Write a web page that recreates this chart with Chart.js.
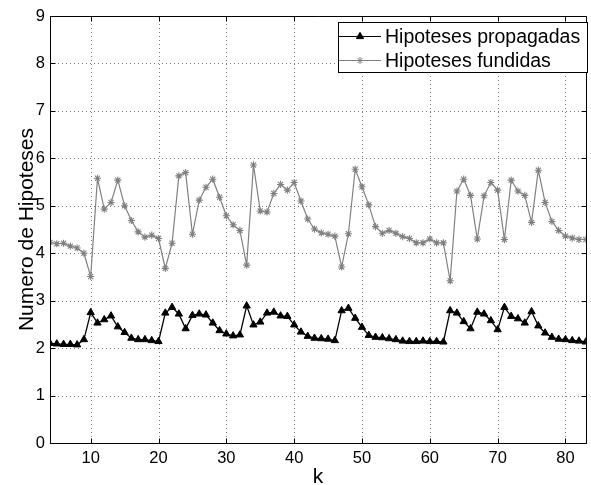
<!DOCTYPE html>
<html>
<head>
<meta charset="utf-8">
<script src="https://cdn.jsdelivr.net/npm/chart.js@4.4.1/dist/chart.umd.min.js"></script>
<style>
  html, body { margin: 0; padding: 0; background: #fff; }
  #wrap { width: 591px; height: 485px; }
</style>
</head>
<body>
<div id="wrap"><canvas id="chart" width="591" height="485"></canvas></div>
<script>
// Data
const kValues = [4, 5, 6, 7, 8, 9, 10, 11, 12, 13, 14, 15, 16, 17, 18, 19, 20, 21, 22, 23,
    24, 25, 26, 27, 28, 29, 30, 31, 32, 33, 34, 35, 36, 37, 38, 39, 40, 41, 42, 43,
    44, 45, 46, 47, 48, 49, 50, 51, 52, 53, 54, 55, 56, 57, 58, 59, 60, 61, 62, 63,
    64, 65, 66, 67, 68, 69, 70, 71, 72, 73, 74, 75, 76, 77, 78, 79, 80, 81, 82, 83];

const propagadas = [2.10, 2.09, 2.08, 2.08, 2.07, 2.18, 2.75, 2.53, 2.60, 2.68,
    2.45, 2.33, 2.21, 2.18, 2.18, 2.16, 2.14, 2.74, 2.86, 2.72,
    2.41, 2.69, 2.72, 2.70, 2.53, 2.37, 2.30, 2.26, 2.28, 2.89,
    2.49, 2.55, 2.74, 2.76, 2.68, 2.67, 2.49, 2.34, 2.25, 2.21,
    2.20, 2.19, 2.16, 2.79, 2.84, 2.63, 2.44, 2.27, 2.23, 2.22,
    2.20, 2.18, 2.15, 2.14, 2.14, 2.15, 2.14, 2.14, 2.13, 2.79,
    2.74, 2.56, 2.41, 2.76, 2.72, 2.58, 2.39, 2.86, 2.67, 2.62,
    2.53, 2.77, 2.47, 2.32, 2.23, 2.19, 2.18, 2.16, 2.15, 2.13];

const fundidas = [4.23, 4.20, 4.21, 4.15, 4.11, 4.00, 3.51, 5.58, 4.93, 5.07,
    5.54, 5.00, 4.69, 4.45, 4.34, 4.38, 4.31, 3.68, 4.21, 5.63,
    5.70, 4.40, 5.12, 5.39, 5.56, 5.18, 4.79, 4.60, 4.48, 3.75,
    5.86, 4.89, 4.87, 5.26, 5.45, 5.33, 5.49, 5.10, 4.72, 4.51,
    4.43, 4.40, 4.36, 3.71, 4.41, 5.77, 5.40, 5.02, 4.56, 4.42,
    4.48, 4.42, 4.35, 4.31, 4.22, 4.22, 4.30, 4.22, 4.22, 3.42,
    5.31, 5.56, 5.22, 4.30, 5.21, 5.49, 5.33, 4.29, 5.54, 5.31,
    5.22, 4.65, 5.75, 5.07, 4.67, 4.48, 4.36, 4.32, 4.29, 4.29];

const xTicks = [10, 20, 30, 40, 50, 60, 70, 80];
const yTicks = [0, 1, 2, 3, 4, 5, 6, 7, 8, 9];

const seriesNames = ["Hipoteses propagadas", "Hipoteses fundidas"];
const xTitle = "k";
const yTitle = "Numero de Hipoteses";

const FONT = "'Liberation Sans', Arial, Helvetica, sans-serif";
const GRAY = "#808080";

function toPoints(values) {
    return values.map((v, i) => ({ x: kValues[i], y: v }));
}

// small marker helpers for the legend
function drawTriangle(ctx, x, y, r) {
    ctx.beginPath();
    ctx.moveTo(x, y - r);
    ctx.lineTo(x + Math.sin(2 * Math.PI / 3) * r, y + 0.5 * r);
    ctx.lineTo(x - Math.sin(2 * Math.PI / 3) * r, y + 0.5 * r);
    ctx.closePath();
    ctx.fill();
    ctx.stroke();
}

function drawStar(ctx, x, y, r) {
    const d = r * Math.SQRT1_2;
    ctx.beginPath();
    ctx.moveTo(x - r, y); ctx.lineTo(x + r, y);
    ctx.moveTo(x, y - r); ctx.lineTo(x, y + r);
    ctx.moveTo(x - d, y - d); ctx.lineTo(x + d, y + d);
    ctx.moveTo(x - d, y + d); ctx.lineTo(x + d, y - d);
    ctx.stroke();
}

// dotted grid under the lines
const dottedGrid = {
    id: "dottedGrid",
    beforeDatasetsDraw(chart) {
        const ctx = chart.ctx;
        const a = chart.chartArea;
        const xs = chart.scales.x;
        const ys = chart.scales.y;
        ctx.save();
        ctx.strokeStyle = "#7a7a7a";
        ctx.lineWidth = 1;
        ctx.setLineDash([1, 3]);
        ctx.beginPath();
        xTicks.forEach(v => {
            const px = Math.round(xs.getPixelForValue(v)) + 0.5;
            ctx.moveTo(px, a.top); ctx.lineTo(px, a.bottom);
        });
        yTicks.forEach(v => {
            const py = Math.round(ys.getPixelForValue(v)) + 0.5;
            ctx.moveTo(a.left, py); ctx.lineTo(a.right, py);
        });
        ctx.stroke();
        ctx.restore();
    }
};

// frame with inward ticks, axis titles, boxed legend
const matlabFrame = {
    id: "matlabFrame",
    afterDraw(chart) {
        const ctx = chart.ctx;
        const a = chart.chartArea;
        const xs = chart.scales.x;
        const ys = chart.scales.y;
        const L = Math.round(a.left) + 0.5;
        const R = Math.round(a.right) + 0.5; // right edge sits just off the canvas
        const T = Math.round(a.top) + 0.5;
        const B = Math.round(a.bottom) + 0.5;
        const tl = 5;

        ctx.save();
        ctx.strokeStyle = "#000";
        ctx.lineWidth = 1;
        ctx.beginPath();
        ctx.rect(L, T, R - L, B - T);
        xTicks.forEach(v => {
            const px = Math.round(xs.getPixelForValue(v)) + 0.5;
            ctx.moveTo(px, B); ctx.lineTo(px, B - tl);
            ctx.moveTo(px, T); ctx.lineTo(px, T + tl);
        });
        yTicks.forEach(v => {
            const py = Math.round(ys.getPixelForValue(v)) + 0.5;
            ctx.moveTo(L, py); ctx.lineTo(L + tl, py);
            ctx.moveTo(R, py); ctx.lineTo(R - tl, py);
        });
        ctx.stroke();

        // axis titles
        ctx.fillStyle = "#000";
        ctx.font = "21px " + FONT;
        ctx.textAlign = "center";
        ctx.textBaseline = "alphabetic";
        ctx.fillText(xTitle, (a.left + a.right) / 2, 483);
        ctx.save();
        ctx.translate(33, (a.top + a.bottom) / 2);
        ctx.rotate(-Math.PI / 2);
        ctx.fillText(yTitle, 0, 0);
        ctx.restore();

        // legend
        const bx = 338.5, by = 22.5, bw = 249, bh = 50;
        ctx.fillStyle = "#fff";
        ctx.fillRect(bx, by, bw, bh);
        ctx.strokeStyle = "#000";
        ctx.strokeRect(bx, by, bw, bh);

        const rows = [
            { y: 36.5, base: 43.3, color: "#000", marker: "triangle" },
            { y: 60.5, base: 66.8, color: GRAY, marker: "star" }
        ];
        rows.forEach((row, i) => {
            ctx.strokeStyle = row.color;
            ctx.fillStyle = row.color;
            ctx.lineWidth = 1;
            ctx.beginPath();
            ctx.moveTo(339, row.y); ctx.lineTo(381, row.y);
            ctx.stroke();
            if (row.marker === "triangle") drawTriangle(ctx, 360, row.y, 4.2);
            else drawStar(ctx, 360, row.y, 3.5);
            ctx.fillStyle = "#000";
            ctx.font = "19.5px " + FONT;
            ctx.textAlign = "left";
            ctx.fillText(seriesNames[i], 385, row.base);
        });
        ctx.restore();
    }
};

const ctx = document.getElementById("chart").getContext("2d");
const chart = new Chart(ctx, {
    type: "line",
    data: {
        datasets: [
            {
                label: seriesNames[0],
                data: toPoints(propagadas),
                borderColor: "#000",
                backgroundColor: "#000",
                borderWidth: 1.3,
                pointStyle: "triangle",
                pointRadius: 4.2,
                pointBorderWidth: 1,
                pointBorderColor: "#000",
                pointBackgroundColor: "#000",
                tension: 0
            },
            {
                label: seriesNames[1],
                data: toPoints(fundidas),
                borderColor: GRAY,
                backgroundColor: GRAY,
                borderWidth: 1.2,
                pointStyle: "star",
                pointRadius: 3.6,
                pointBorderWidth: 1.1,
                pointBorderColor: GRAY,
                tension: 0
            }
        ]
    },
    options: {
        responsive: false,
        animation: false,
        devicePixelRatio: 1,
        layout: { padding: { top: 16, right: 0, left: 0, bottom: 0 } },
        plugins: {
            legend: { display: false },
            tooltip: { enabled: false }
        },
        scales: {
            x: {
                type: "linear",
                min: 4,
                max: 83,
                afterBuildTicks: (scale) => {
                    scale.ticks = xTicks.map(v => ({ value: v }));
                },
                afterFit: (scale) => { scale.height = 42; },
                grid: { display: false, drawTicks: false },
                border: { display: false },
                ticks: {
                    color: "#000",
                    font: { family: FONT, size: 16.5 },
                    padding: 6,
                    maxRotation: 0,
                    autoSkip: false
                }
            },
            y: {
                min: 0,
                max: 9,
                afterBuildTicks: (scale) => {
                    scale.ticks = yTicks.map(v => ({ value: v }));
                },
                afterFit: (scale) => { scale.width = 50; },
                grid: { display: false, drawTicks: false },
                border: { display: false },
                ticks: {
                    color: "#000",
                    font: { family: FONT, size: 16.5 },
                    padding: 5
                }
            }
        }
    },
    plugins: [dottedGrid, matlabFrame]
});
</script>
</body>
</html>
